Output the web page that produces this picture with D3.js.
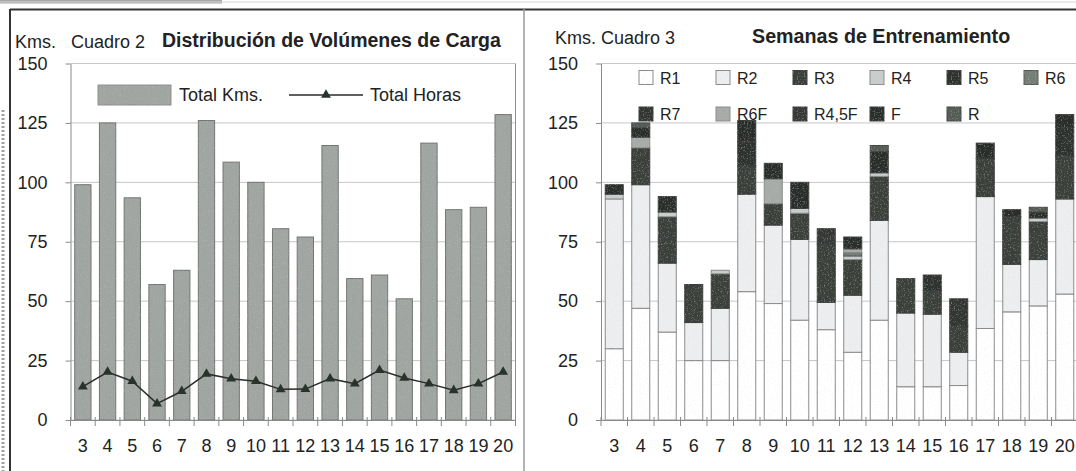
<!DOCTYPE html>
<html>
<head>
<meta charset="utf-8">
<script src="https://cdn.jsdelivr.net/npm/d3@7"></script>
<style>
  body { margin: 0; background: #fff; }
  svg text { font-family: "Liberation Sans", Arial, sans-serif; fill: #222; }
</style>
</head>
<body>
<svg id="chart" width="1076" height="471"></svg>
<script>
// weeks on the x axis (both charts)
var weeks = [3, 4, 5, 6, 7, 8, 9, 10, 11, 12, 13, 14, 15, 16, 17, 18, 19, 20];
var yTicks = [0, 25, 50, 75, 100, 125, 150];

// Cuadro 2
var totalKms   = [99, 125, 93.5, 57, 63, 126, 108.5, 100, 80.5, 77, 115.5, 59.5, 61, 51, 116.5, 88.5, 89.5, 128.5];
var totalHoras = [14, 20.2, 16.3, 6.9, 12.1, 19.4, 17.4, 16.3, 12.9, 13, 17.4, 15.3, 21, 17.7, 15.3, 12.5, 15.3, 20.2];

// Cuadro 3 - one array per series, stacked bottom to top
var seriesNames = ["R1", "R2", "R3", "R4", "R5", "R6", "R7", "R6F", "R4,5F", "F", "R"];
var r1   = [30, 47, 37, 25, 25, 54, 49, 42, 38, 28.5, 42, 14, 14, 14.5, 38.5, 45.5, 48, 53];
var r2   = [63, 52, 29, 16, 22, 41, 33, 34, 11.5, 24, 42, 31, 30.5, 14, 55.5, 20, 19.5, 40];
var r3   = [0, 15.5, 19.5, 16, 14.5, 12, 9, 11, 24.5, 15, 18.5, 14.5, 10, 11, 16, 20, 16, 18];
var r4   = [2, 0, 2, 0, 1.5, 0, 0, 2, 0, 1.5, 1.5, 0, 0, 0, 0, 0, 1.5, 0];
var r5   = [0, 0, 0, 0, 0, 10, 0, 0, 0, 0, 0, 0, 6.5, 0, 0, 0, 0, 12];
var r6   = [0, 0, 0, 0, 0, 0, 0, 0, 0, 1.5, 0, 0, 0, 0, 0, 0, 0, 0];
var r7   = [0, 0, 0, 0, 0, 0, 0, 0, 0, 0, 0, 0, 0, 11.5, 0, 0, 0, 0];
var r6f  = [0, 4.5, 0, 0, 0, 0, 10.5, 0, 0, 1.5, 0, 0, 0, 0, 0, 0, 0, 0];
var r45f = [0, 0, 0, 0, 0, 0, 0, 0, 6.5, 0, 0, 0, 0, 0, 0, 0, 0, 0];
var f    = [4, 4, 6.5, 0, 0, 9, 6.5, 11, 0, 5, 9, 0, 0, 0, 6.5, 3, 2.5, 5.5];
var r    = [0, 2, 0, 0, 0, 0, 0, 0, 0, 0, 2.5, 0, 0, 0, 0, 0, 2, 0];

var seriesValues = [r1, r2, r3, r4, r5, r6, r7, r6f, r45f, f, r];
var seriesColors = ["#ffffff", "#eceef0", "#3a3f3b", "#c9cdcb", "#2d312e", "#747d77",
                    "#303430", "#a6aba8", "#343834", "#2a2d2a", "#545b56"];
var seriesEdges  = ["#8a8a8a", "#8a8a8a", "#3a3d3b", "#8a8a8a", "#3a3d3b", "#555a57",
                    "#3a3d3b", "#8a8a8a", "#3a3d3b", "#3a3d3b", "#444946"];

var svg = d3.select("#chart");

// a little scan grain for the filled bars
var defs = svg.append("defs");
var grain = defs.append("filter").attr("id", "grain");
grain.append("feTurbulence").attr("type", "fractalNoise").attr("baseFrequency", 0.7)
    .attr("numOctaves", 2).attr("seed", 4).attr("result", "n");
grain.append("feColorMatrix").attr("in", "n").attr("type", "matrix")
    .attr("values", "0 0 0 0 0.6  0 0 0 0 0.62  0 0 0 0 0.6  0.9 0 0 0 -0.5").attr("result", "w");
grain.append("feComposite").attr("in", "w").attr("in2", "SourceGraphic").attr("operator", "atop");

// scanned page edges
svg.append("rect").attr("x", 0).attr("y", 0).attr("width", 222).attr("height", 3.5).attr("fill", "#a8a8a8");
svg.append("line").attr("x1", 0).attr("x2", 1076).attr("y1", 2).attr("y2", 2).attr("stroke", "#d4d4d4");
svg.append("line").attr("x1", 3).attr("x2", 3).attr("y1", 110).attr("y2", 471)
    .attr("stroke", "#a0a0a0").attr("stroke-width", 3).attr("stroke-dasharray", "2,2");

// panel frame
svg.append("line").attr("x1", 10).attr("x2", 1076).attr("y1", 9.5).attr("y2", 9.5)
    .attr("stroke", "#333").attr("stroke-width", 2);
svg.append("line").attr("x1", 10).attr("x2", 10).attr("y1", 9).attr("y2", 471)
    .attr("stroke", "#333").attr("stroke-width", 2);
svg.append("line").attr("x1", 524).attr("x2", 524).attr("y1", 9).attr("y2", 471)
    .attr("stroke", "#9a9a9a").attr("stroke-width", 1.5);

var y = d3.scaleLinear().domain([0, 150]).range([420, 63.5]);

var xL = d3.scaleBand().domain(weeks).range([70.5, 515.5]).paddingInner(0.34).paddingOuter(0.17);
var xR = d3.scaleBand().domain(weeks).range([601, 1078]).paddingInner(0.32).paddingOuter(0.16);

// grid and right edge for one chart
function drawPlot(x) {
    var r0 = x.range()[0], r1 = x.range()[1];
    var g = svg.append("g");
    g.selectAll("line.grid")
        .data(yTicks)
      .enter().append("line")
        .attr("class", "grid")
        .attr("x1", r0).attr("x2", r1)
        .attr("y1", function(d) { return y(d); })
        .attr("y2", function(d) { return y(d); })
        .attr("stroke", "#c6c6c6");
    g.append("line").attr("x1", r1).attr("x2", r1).attr("y1", y(150)).attr("y2", y(0)).attr("stroke", "#8f8f8f");
    return g;
}

function drawAxes(x) {
    var r0 = x.range()[0];
    var yaxis = d3.axisLeft(y).tickValues(yTicks).tickSize(5).tickSizeOuter(0).tickPadding(18);
    var gy = svg.append("g").attr("transform", "translate(" + r0 + ",0)").call(yaxis);
    gy.select(".domain").attr("stroke", "#8a8a8a");
    gy.selectAll(".tick line").attr("stroke", "#8a8a8a");
    gy.selectAll("text").attr("font-size", 18).attr("font-family", "Liberation Sans, Arial, sans-serif");

    var xaxis = d3.axisBottom(x).tickSize(0).tickSizeOuter(0).tickPadding(19);
    var gx = svg.append("g").attr("transform", "translate(0," + y(0) + ")").call(xaxis);
    gx.select(".domain").attr("stroke", "#8a8a8a");
    gx.selectAll("text").attr("font-size", 18).attr("font-family", "Liberation Sans, Arial, sans-serif");

    // ticks between categories
    var bounds = d3.range(weeks.length + 1).map(function(k) { return r0 + k * x.step(); });
    gx.selectAll("line.sep")
        .data(bounds)
      .enter().append("line")
        .attr("class", "sep")
        .attr("x1", function(d) { return d; }).attr("x2", function(d) { return d; })
        .attr("y1", -3).attr("y2", 6)
        .attr("stroke", "#8a8a8a");
}

// ---------- Cuadro 2 ----------
drawPlot(xL);

svg.append("g").attr("filter", "url(#grain)")
  .selectAll("rect.kms")
    .data(weeks)
  .enter().append("rect")
    .attr("class", "kms")
    .attr("x", function(d) { return xL(d); })
    .attr("width", xL.bandwidth())
    .attr("y", function(d, i) { return y(totalKms[i]); })
    .attr("height", function(d, i) { return y(0) - y(totalKms[i]); })
    .attr("fill", "#a0a5a2")
    .attr("stroke", "#707572");

var line = d3.line()
    .x(function(d) { return xL(d) + xL.bandwidth() / 2; })
    .y(function(d, i) { return y(totalHoras[i]); });

svg.append("path")
    .datum(weeks)
    .attr("fill", "none")
    .attr("stroke", "#2a2d2b")
    .attr("stroke-width", 1.5)
    .attr("d", line);

var tri = d3.symbol().type(d3.symbolTriangle).size(42);
svg.selectAll("path.mk")
    .data(weeks)
  .enter().append("path")
    .attr("class", "mk")
    .attr("d", tri)
    .attr("transform", function(d, i) {
        return "translate(" + (xL(d) + xL.bandwidth() / 2) + "," + y(totalHoras[i]) + ")";
    })
    .attr("fill", "#27332b");

drawAxes(xL);

// titles
svg.append("text").attr("x", 15).attr("y", 48).attr("font-size", 18).text("Kms.");
svg.append("text").attr("x", 71).attr("y", 48).attr("font-size", 18).text("Cuadro 2");
svg.append("text").attr("x", 162).attr("y", 47).attr("font-size", 19.5).attr("font-weight", "bold")
    .text("Distribución de Volúmenes de Carga");

// legend
svg.append("rect").attr("x", 98).attr("y", 85).attr("width", 73).attr("height", 20)
    .attr("fill", "#a0a5a2").attr("stroke", "#8a8f8c").attr("filter", "url(#grain)");
svg.append("text").attr("x", 179).attr("y", 101).attr("font-size", 18).text("Total Kms.");
svg.append("line").attr("x1", 289).attr("x2", 363).attr("y1", 95).attr("y2", 95)
    .attr("stroke", "#2a2d2b").attr("stroke-width", 1.4);
svg.append("path").attr("d", tri).attr("transform", "translate(326,95)").attr("fill", "#27332b");
svg.append("text").attr("x", 370).attr("y", 101).attr("font-size", 18).text("Total Horas");

// ---------- Cuadro 3 ----------
drawPlot(xR);

var table = weeks.map(function(w, i) {
    var row = { week: w };
    seriesNames.forEach(function(s, j) { row[s] = seriesValues[j][i]; });
    return row;
});
var stacked = d3.stack().keys(seriesNames)(table);

svg.append("g").attr("filter", "url(#grain)")
  .selectAll("g.series")
    .data(stacked)
  .enter().append("g")
    .attr("class", "series")
    .attr("fill", function(d, j) { return seriesColors[j]; })
    .attr("stroke", function(d, j) { return seriesEdges[j]; })
  .selectAll("rect")
    .data(function(d) { return d.filter(function(p) { return p[1] > p[0]; }); })
  .enter().append("rect")
    .attr("x", function(p) { return xR(p.data.week); })
    .attr("width", xR.bandwidth())
    .attr("y", function(p) { return y(p[1]); })
    .attr("height", function(p) { return y(p[0]) - y(p[1]); })
    .attr("stroke-width", 1);

drawAxes(xR);

svg.append("text").attr("x", 555).attr("y", 44).attr("font-size", 18).text("Kms. Cuadro 3");
svg.append("text").attr("x", 752).attr("y", 43).attr("font-size", 19.7).attr("font-weight", "bold")
    .text("Semanas de Entrenamiento");

// legend, two rows of six
var leg = svg.selectAll("g.leg")
    .data(seriesNames)
  .enter().append("g")
    .attr("class", "leg")
    .attr("transform", function(d, j) {
        return "translate(" + (639 + 77 * (j % 6)) + "," + (j < 6 ? 77.5 : 114) + ")";
    });
leg.append("rect")
    .attr("x", 0).attr("y", -7).attr("width", 14).attr("height", 14)
    .attr("fill", function(d, j) { return seriesColors[j]; })
    .attr("stroke", function(d, j) { return seriesEdges[j]; })
    .attr("filter", "url(#grain)");
leg.append("text")
    .attr("x", 21).attr("y", 6)
    .attr("font-size", 16)
    .text(function(d) { return d; });
</script>
</body>
</html>
